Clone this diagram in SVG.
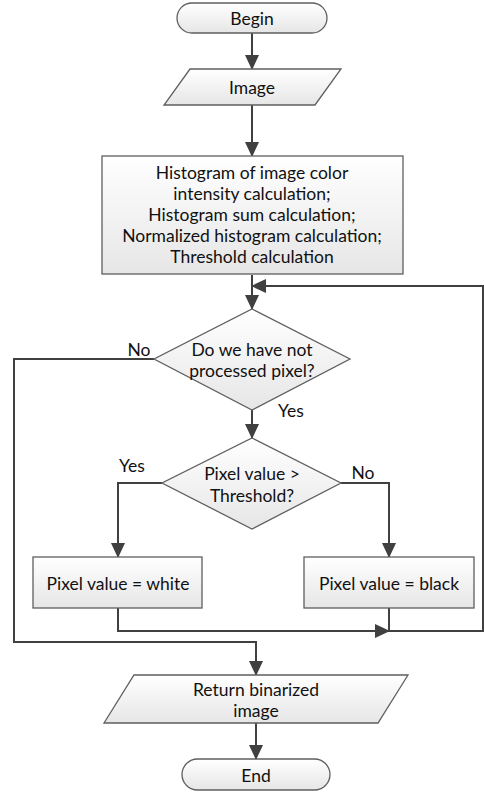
<svg xmlns="http://www.w3.org/2000/svg" width="484" height="809" viewBox="0 0 484 809">
<defs>
<linearGradient id="g" x1="0" y1="0" x2="0" y2="1">
<stop offset="0" stop-color="#ffffff"/>
<stop offset="1" stop-color="#e6e6e6"/>
</linearGradient>
<marker id="ah" markerUnits="userSpaceOnUse" markerWidth="16" markerHeight="16" viewBox="0 0 16 16" refX="14" refY="8" orient="auto">
<path d="M0,1 L15,8 L0,15 Z" fill="#404040"/>
</marker>
</defs>
<style>
.s{fill:url(#g);stroke:#5f5f5f;stroke-width:1.3}
.c{fill:none;stroke:#404040;stroke-width:2}
.a{marker-end:url(#ah)}
text{font-family:Lato,"Open Sans","Liberation Sans",sans-serif;font-size:17.5px;fill:#111;text-anchor:middle;dominant-baseline:central}
</style>
<g id="connectors">
<path class="c a" d="M252,32 V69"/>
<path class="c a" d="M252,105 V156"/>
<path class="c a" d="M252,275 V309"/>
<path class="c a" d="M252,410 V438"/>
<path class="c a" d="M162,483 H118 V557"/>
<path class="c a" d="M341,483 H389 V557"/>
<path class="c a" d="M118,608 V631 H389"/>
<path class="c a" d="M389,608 V631 H483 V286 H252"/>
<path class="c a" d="M154,359 H14 V642 H256 V675"/>
<path class="c a" d="M256,723 V759"/>
</g>
<g id="begin">
<rect class="s" x="177" y="3" width="150" height="30" rx="15"/>
<text x="252" y="18">Begin</text>
</g>
<g id="image">
<polygon class="s" points="190,69 341,69 315,105 164,105"/>
<text x="252" y="87">Image</text>
</g>
<g id="calc">
<rect class="s" x="102" y="156" width="301" height="118"/>
<text x="252" y="172">Histogram of image color</text>
<text x="252" y="193">intensity calculation;</text>
<text x="252" y="214">Histogram sum calculation;</text>
<text x="252" y="235">Normalized histogram calculation;</text>
<text x="252" y="256">Threshold calculation</text>
</g>
<g id="decision1">
<polygon class="s" points="252,309 350,359 252,410 154,359"/>
<text x="252" y="349">Do we have not</text>
<text x="252" y="370">processed pixel?</text>
</g>
<g id="decision2">
<polygon class="s" points="252,438 341,483 252,529 162,483"/>
<text x="252" y="473">Pixel value &gt;</text>
<text x="252" y="495">Threshold?</text>
</g>
<g id="white">
<rect class="s" x="33" y="557" width="169" height="51"/>
<text x="118" y="583">Pixel value = white</text>
</g>
<g id="black">
<rect class="s" x="304" y="557" width="170" height="51"/>
<text x="389" y="583">Pixel value = black</text>
</g>
<g id="return">
<polygon class="s" points="134,675 408,675 378,723 104,723"/>
<text x="256" y="689">Return binarized</text>
<text x="256" y="710">image</text>
</g>
<g id="end">
<rect class="s" x="182" y="759" width="148" height="31" rx="15.5"/>
<text x="256" y="775">End</text>
</g>
<g id="labels">
<text x="139" y="349">No</text>
<text x="291" y="410">Yes</text>
<text x="132" y="465">Yes</text>
<text x="363" y="472">No</text>
</g>
</svg>
